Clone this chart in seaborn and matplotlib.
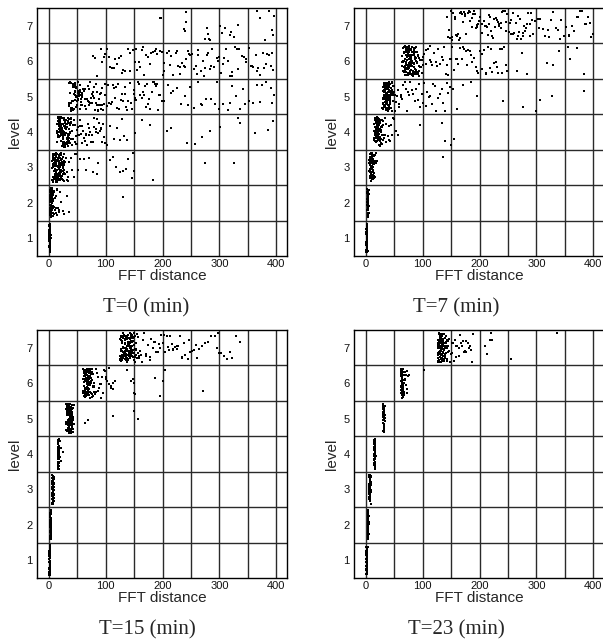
import numpy as np
import pandas as pd
import seaborn as sns
import matplotlib
matplotlib.use("Agg")
import matplotlib.pyplot as plt

levels = [1, 2, 3, 4, 5, 6, 7]
x_ticks = [0, 100, 200, 300, 400]
x_minor = [50, 150, 250, 350]
level_edges = [1.5, 2.5, 3.5, 4.5, 5.5, 6.5]
panel_titles = ["T=0 (min)", "T=7 (min)", "T=15 (min)", "T=23 (min)"]

# ---------------- T = 0 ----------------
t0_l1 = [0.5,1.2,2.0,0.8,1.6,2.4,1.0,0.3,1.9,2.7,1.4,0.7,2.2,1.1,0.9,1.7,2.5,0.4,1.3,2.1,1.5,0.6,2.8,1.8,1.0,0.2,2.3,1.2,1.6,0.9,2.0,1.4,0.5,2.6,1.1,1.7,0.8,2.2,1.3,1.9,0.6,1.5,2.4,1.0,1.8,0.4,2.1,1.2,1.6,2.9,
         0.7,1.3,2.0,1.5,0.9,2.5,1.1,1.8,0.6,2.2,1.4,0.8,1.9,1.0,2.3]
t0_l2 = [1.5,3.2,5.0,2.4,7.1,4.3,6.2,1.8,8.5,3.7,5.6,2.1,4.8,6.9,3.0,9.2,1.2,5.3,7.7,2.8,4.1,6.5,3.5,8.0,2.0,5.8,4.5,1.6,7.3,3.9,6.0,2.6,9.6,4.9,1.4,5.1,3.3,7.9,2.3,6.7,4.0,8.8,3.1,5.5,1.9,6.3,2.7,4.6,7.5,3.6,5.9,2.2,8.3,4.4,6.1,
         1.1,2.9,4.7,6.6,8.2,3.4,5.2,7.0,1.7,3.8,5.7,7.4,2.5,4.2,6.4,1.3,3.0,4.9,6.8,2.1,3.6,5.4,7.2,1.9,4.0,5.9,2.8,4.5,6.1,3.2,1.5,2.6,3.9,5.0,6.3,2.0,3.5,4.8,1.8,2.4,
         11,13,15,12,17,19,14,21,16,18,24,27,31,35,11.5,12.5,14.5,131]
t0_l3 = [7,12,18,9,23,15,26,11,20,8,14,25,17,10,22,13,27,19,6,16,
         24,12,9,21,15,28,11,18,7,23,14,20,10,26,17,13,8,25,19,12,
         22,16,9,27,14,11,21,18,7,24,15,10,20,13,26,17,8,23,12,19,
         16,9,25,14,22,11,18,6,21,15,27,10,24,13,20,17,8,26,12,19,
         6.5,9.5,12.5,15.5,18.5,21.5,7.5,10.5,13.5,16.5,19.5,22.5,8.5,11.5,14.5,17.5,20.5,23.5,9,12,
         15,18,21,24,7,10,13,16,19,22,8,11,14,17,20,6,9,12,15,18,
         10,13,16,11,14,17,12,15,9,13,18,21,24,16,11,14,7,10,19,23,
         8,12,16,20,25,9,14,18,11,15,
         30,33,29,36,41,31,38,46,34,44,52,32,39,48,55,62,70,78,85,87,66,
         108,112,118,125,130,135,140,146,150,148,184,275,325]
t0_l4 = [15,22,30,38,18,26,34,20,28,36,16,24,32,19,27,35,17,25,33,21,
         29,37,14,23,31,39,18,26,35,20,28,36,16,24,32,19,27,34,22,30,
         38,15,25,33,17,21,29,37,23,31,40,18,26,35,20,28,16,24,32,39,
         19,27,36,22,30,17,25,34,21,29,38,15,33,14.5,16.5,18.5,20.5,22.5,24.5,26.5,
         28.5,30.5,32.5,34.5,36.5,15.5,17.5,19.5,21.5,23.5,25.5,27.5,29.5,31.5,33.5,16,18,20,22,24,
         26,28,17,19,21,23,25,27,18,20,22,24,19,21,23,25,20,22,24,26,
         21,23,30,35,37,39,31,33,15,17,
         41,43,45,47,50,55,62,68,74,80,86,92,98,52,58,65,71,77,83,89,95,54,60,66,72,79,85,91,97,51,57,63,70,76,82,88,94,59,67,42,44,46,48,49,53,
         102,108,115,120,125,128,132,137,152,163,178,207,215,243,257,270,284,301,333,336,363,386,395]
t0_l5 = [36,42,48,55,61,67,73,79,85,91,97,39,45,51,58,64,70,76,82,88,94,38,44,50,57,63,69,75,81,87,93,99,37,43,49,56,62,68,74,80,86,92,98,40,46,53,59,65,71,77,83,89,95,41,47,54,60,66,72,78,84,90,96,52,35,58,64,70,46,88,
         36,38,40,42,44,46,48,50,52,54,56,58,37,39,41,43,45,47,49,51,53,55,57,35,39.5,43.5,47.5,51.5,41.5,45.5,
         102,106,111,115,120,124,129,133,138,142,147,151,156,160,165,169,174,178,183,187,192,196,104,109,113,118,122,127,131,136,140,145,149,154,158,163,167,172,176,181,185,190,194,199,117,134,152,171,188,150,
         203,210,218,225,233,240,248,255,262,270,277,285,292,300,307,315,322,330,337,345,352,360,367,375,382,390,396,214,244,268,296,318,341,371,393]
t0_l6 = [78,85,91,97,103,107,115,119,127,131,139,143,151,155,163,167,175,179,187,191,199,203,211,215,223,227,235,239,247,251,259,263,271,275,283,287,295,299,307,311,319,323,331,335,343,347,355,359,367,371,379,383,391,395,
         81,93,106,117,128,142,153,166,177,188,202,213,226,237,248,262,273,286,297,308,322,333,346,357,368,382,393,
         99,123,148,171,196,219,244,268,291,316,339,364,387,111,134,159,183,208,231,256,279,302,327,352,376,
         160,201,241,280,230,260]
t0_l7 = [195,198,237,240,242,241,275,278,280,284,301,305,310,318,325,333,366,372,380,388,392,395,396,320,282]

# ---------------- T = 7 ----------------
t7_l1 = [0.6,1.4,2.2,0.9,1.8,2.6,1.1,0.4,2.0,2.8,1.5,0.8,2.3,1.2,1.0,1.9,2.5,0.5,1.3,2.1,1.6,0.7,2.7,1.7,1.1,0.3,2.4,1.3,1.5,0.9,2.0,1.4,0.6,2.6,1.2,1.8,0.8,2.2,1.4,1.9,0.7,1.6,2.4,1.0,1.7,
         0.5,1.2,2.1,1.5,0.9,2.3,1.8,1.1,0.6,2.0,1.3,2.5,0.8,1.6,1.0,2.2,1.4,0.7,1.9,1.2]
t7_l2 = [2.6,3.4,4.2,2.9,3.8,4.6,3.1,2.5,4.0,4.8,3.5,2.8,4.3,3.2,3.0,3.9,4.5,2.7,3.3,4.1,3.6,2.6,4.7,3.7,3.1,2.5,4.4,3.3,3.5,2.9,4.0,3.4,2.6,4.6,3.2,3.8,2.8,4.2,3.4,3.9,2.7,3.6,4.4,3.0,3.7,
         2.9,3.5,4.1,3.2,3.8,4.3,2.7,3.6,4.0,3.1,3.4,4.5,2.8,3.9,3.3,4.2,3.0,3.7,3.5,4.0]
t7_l3 = [6,8,10,12,14,7,9,11,13,15,6.5,8.5,10.5,12.5,14.5,7.5,9.5,11.5,13.5,6.2,
         8.8,10.2,12.8,14.2,7.2,9.8,11.2,13.2,6.8,8.2,10.8,12.2,14.8,7.8,9.2,11.8,13.8,6.4,8.6,10.4,
         12.6,7.4,9.6,11.4,13.6,8.4,10.6,9.1,7.1,11.1,12.1,8.1,6.6,8.9,10.9,12.9,7.6,9.4,11.6,13.4,
         6.3,8.3,10.3,12.3,7.3,9.3,11.3,6.9,8.7,10.7,9.9,7.9,11.9,8.0,10.0,12.0,6.1,9.0,11.0,13.0,
         7.0,8.6,10.1,7.7,9.7,11.7,6.7,8.4,10.4,9.5,
         16.5,17,18,17.5,19,18.5,16,135]
t7_l4 = [14,17,20,23,26,29,32,15,18,21,24,27,30,16,19,22,25,28,31,14.5,
         17.5,20.5,23.5,26.5,29.5,15.5,18.5,21.5,24.5,27.5,30.5,16.5,19.5,22.5,25.5,28.5,17,20,23,26,
         15,18,21,24,19,22,25,16,20,24,28,18,22,26,17,21,19,23,27,20,
         16,24,18,22,14.2,15.8,17.3,18.9,20.4,21.9,23.1,24.7,26.2,27.8,14.8,16.3,17.8,19.2,20.8,22.3,
         23.8,25.2,15.1,16.7,18.2,19.7,21.2,22.7,24.2,15.4,17.1,18.6,20.1,21.6,23.4,16.1,17.6,19.1,20.6,22.1,
         16.9,18.4,19.9,21.4,17.4,18.8,20.2,21.8,19.4,20.9,
         38,40,42,44,47,50,53,57,41,45,34,36,33,35,95,133,140,150,155]
t7_l5 = [29,32,35,38,41,44,47,50,30,33,36,39,42,45,48,51,31,34,37,40,
         43,46,49,52,29.5,32.5,35.5,38.5,41.5,44.5,47.5,30.5,33.5,36.5,39.5,42.5,45.5,31.5,34.5,37.5,
         40.5,43.5,32,35,38,41,44,30,33,36,39,42,31,34,37,40,33,36,39,35,
         38,34,37,36,32,40,43,46,31,35,39,33,37,41,34,38,36,45,29.2,30.8,
         32.2,33.8,35.2,36.8,38.2,39.8,41.2,42.8,44.2,45.8,30.2,31.8,33.2,34.8,36.2,37.8,39.2,40.8,42.2,43.8,
         31.2,32.8,34.2,35.8,37.2,38.8,40.2,41.8,30.4,32.6,34.4,36.6,38.4,40.6,31.6,33.4,35.6,37.4,39.6,34.6,
         48.5,50.5,53,55,
         56,59,62,66,70,74,78,83,88,93,98,103,108,113,118,124,130,136,142,148,154,58,64,68,76,81,86,91,96,101,106,111,116,121,127,133,139,145,61,72,
         160,170,185,195,242,277,300,307,327,383]
t7_l6 = [63,66,69,72,75,78,81,84,87,90,93,96,99,64,67,70,73,76,79,82,85,88,91,94,97,100,65,68,71,74,77,80,83,86,89,92,95,98,101,64.5,67.5,70.5,73.5,76.5,79.5,82.5,85.5,88.5,91.5,66,69,72,75,78,81,84,87,68,71,74,77,80,83,70,73,76,79,82,72,75,78,74,77,76,80,84,73,69,86,71,79,75,81,78,70,77,74,83,88,
         65.2,67.8,70.2,72.8,75.2,77.8,80.2,82.8,85.2,87.8,90.2,92.8,66.2,68.8,71.2,73.8,76.2,78.8,81.2,83.8,
         86.2,88.8,64.2,69.2,74.2,79.2,84.2,89.2,94.2,67.2,72.2,77.2,82.2,87.2,92.2,68.2,73.2,78.2,83.2,70.8,
         75.8,80.8,85.8,71.6,76.6,81.6,66.6,74.6,79.6,84.6,69.6,77.4,72.4,82.4,75.4,78.6,73.6,76.4,80.4,74.4,
         103,106,110,113,117,120,124,127,131,134,138,141,145,148,152,155,159,162,166,169,173,176,180,183,187,190,194,197,201,204,208,211,215,218,222,225,229,232,236,239,243,246,105,115,125,135,150,160,170,185,195,205,220,230,240,112,142,178,212,248,
         265,275,283,318,330,340,355,360,371,383]
t7_l7 = [142,144,146,148,
         150,153,156,159,162,165,168,171,174,177,180,183,186,189,192,195,198,201,204,207,210,213,216,219,222,225,228,231,234,237,240,243,246,249,252,255,258,261,264,267,270,273,276,279,282,285,288,291,294,
         151,157,163,169,175,181,187,193,199,205,211,217,223,229,235,241,247,253,259,265,271,277,283,289,152,160,172,184,196,208,220,232,244,256,268,280,292,166,190,214,238,
         298,302,306,311,316,320,325,330,334,338,343,348,352,357,362,366,371,376,380,385,390,395,399,305,322,341,358,374,388,397]

# ---------------- T = 15 ----------------
t15_l1 = [0.6,1.2,1.8,2.4,0.9,1.5,2.1,0.7,1.3,1.9,2.5,1.0,1.6,2.2,0.8,1.4,2.0,0.5,1.1,1.7,2.3,0.9,1.5,2.1,0.6,1.2,1.8,2.4,1.0,1.6,2.2,0.7,1.3,1.9,1.1,1.7,0.8,1.4,2.0,1.5,1.2,1.8,0.9,1.6,1.3,
          0.7,1.4,2.0,1.1,1.7,2.3,0.9,1.5,2.1,1.2,1.8,0.6,1.3,1.9,1.0,1.6,2.2,0.8,1.4,1.7]
t15_l2 = [2.1,2.6,3.2,3.8,2.3,2.9,3.5,2.2,2.7,3.3,3.9,2.4,3.0,3.6,2.1,2.8,3.4,2.5,3.1,3.7,2.3,2.9,3.5,2.2,2.6,3.2,3.8,2.4,3.0,3.6,2.7,3.3,2.5,3.1,2.8,3.4,2.3,2.9,3.5,3.0,2.6,3.2,2.4,3.1,2.8,
          2.2,2.9,3.5,2.5,3.1,3.7,2.4,3.0,3.6,2.7,3.3,2.3,2.8,3.4,2.6,3.2,3.8,2.5,3.0,3.1]
t15_l3 = [5.2,6.0,6.8,7.6,8.4,5.5,6.3,7.1,7.9,8.7,5.8,6.6,7.4,8.2,9.0,5.3,6.1,6.9,7.7,8.5,5.6,6.4,7.2,8.0,8.8,5.9,6.7,7.5,8.3,5.4,6.2,7.0,7.8,8.6,5.7,6.5,7.3,8.1,6.0,6.8,7.6,7.0,6.4,7.2,8.0,
          5.4,6.3,7.1,8.0,8.8,5.9,6.7,7.5,8.3,5.6,6.5,7.3,8.1,6.1,6.9,7.7,8.5,6.6,7.4,7.0]
t15_l4 = [15.2,15.8,16.4,17.0,17.6,15.5,16.1,16.7,17.3,17.9,15.3,15.9,16.5,17.1,17.7,15.6,16.2,16.8,17.4,15.4,16.0,16.6,17.2,17.8,15.7,16.3,16.9,17.5,15.1,16.4,17.0,16.0,16.6,15.8,17.2,16.2,16.8,15.5,17.4,16.5,
          15.3,16.0,16.7,17.4,15.6,16.3,17.0,17.7,15.9,16.6,17.3,15.4,16.1,16.8,17.5,15.7,16.4,17.1,16.2,16.9,
          20,22,25,19,21]
t15_l5 = [30,32,34,36,38,40,42,44,31,33,35,37,39,41,43,30.5,32.5,34.5,36.5,38.5,40.5,42.5,31.5,33.5,35.5,37.5,39.5,41.5,43.5,32,34,36,38,40,42,33,35,37,39,41,34,36,38,40,35,37,39,36,38,37,31,33,35,39,41,34,36,38,40,43,
          30.2,31.2,32.2,33.2,34.2,35.2,36.2,37.2,38.2,39.2,40.2,41.2,42.2,30.8,31.8,32.8,33.8,34.8,35.8,36.8,
          37.8,38.8,39.8,40.8,41.8,30.4,32.4,34.4,36.4,38.4,40.4,42.4,31.4,33.4,35.4,37.4,39.4,41.4,32.6,34.6,
          36.6,38.6,40.6,33.6,35.6,37.6,39.6,34.8,36.8,38.2,
          63,69,113,149,157]
t15_l6 = [60,62,64,66,68,70,72,74,76,78,80,82,84,61,63,65,67,69,71,73,75,77,79,81,83,60.5,62.5,64.5,66.5,68.5,70.5,72.5,74.5,76.5,78.5,80.5,61.5,63.5,65.5,67.5,69.5,71.5,73.5,75.5,62,64,66,68,70,72,74,63,65,67,69,71,64,66,68,70,65,67,69,66,68,67,63,65,71,73,64,70,62,68,66,
          60.2,61.2,62.2,63.2,64.2,65.2,66.2,67.2,68.2,69.2,70.2,71.2,72.2,73.2,74.2,75.2,76.2,77.2,78.2,79.2,
          60.8,61.8,62.8,63.8,64.8,65.8,66.8,67.8,68.8,69.8,70.8,71.8,72.8,73.8,74.8,61.4,62.6,63.6,64.6,65.6,
          66.6,67.6,68.6,69.6,70.6,71.6,62.4,63.4,64.4,65.4,66.4,67.4,68.4,69.4,63,65,67,69,64,66,
          86,88,91,94,97,100,103,106,110,113,116,87,92,96,101,105,109,89,99,112,
          137,145,148,150,152,149,187,195,200,205,272]
t15_l7 = [125,127,129,131,133,135,137,139,141,143,145,147,149,151,153,155,157,159,126,128,130,132,134,136,138,140,142,144,146,148,150,152,154,156,158,160,125.5,127.5,129.5,131.5,133.5,135.5,137.5,139.5,141.5,143.5,145.5,147.5,149.5,151.5,153.5,126.5,128.5,130.5,132.5,134.5,136.5,138.5,140.5,142.5,144.5,146.5,148.5,150.5,127,129,131,133,135,137,139,141,143,145,147,128,130,132,134,136,138,140,142,144,129,131,133,135,137,139,141,130,134,138,142,146,150,155,
          125.2,126.8,128.2,129.8,131.2,132.8,134.2,135.8,137.2,138.8,140.2,141.8,143.2,144.8,146.2,147.8,149.2,150.8,152.2,153.8,
          125.8,127.2,128.8,130.2,131.8,133.2,134.8,136.2,137.8,139.2,140.8,142.2,143.8,145.2,146.8,148.2,126.4,129.4,132.4,135.4,
          138.4,141.4,144.4,147.4,127.6,130.6,133.6,136.6,139.6,142.6,145.6,128.4,131.4,134.4,137.4,140.4,143.4,130,136,141,
          162,165,168,171,174,177,180,183,186,189,192,195,198,201,204,207,210,213,216,219,222,225,228,231,234,237,240,244,248,252,256,260,264,163,170,178,185,194,202,212,218,226,235,246,258,
          270,275,280,286,292,297,300,303,308,313,318,322,330,337,296]

# ---------------- T = 23 ----------------
t23_l1 = [0.6,1.3,2.0,2.7,0.9,1.6,2.3,0.7,1.4,2.1,2.8,1.0,1.7,2.4,0.8,1.5,2.2,0.5,1.2,1.9,2.6,1.1,1.8,2.5,0.6,1.3,2.0,2.7,1.0,1.7,2.4,0.8,1.5,2.2,1.2,1.9,0.9,1.6,2.3,1.4,1.1,2.1,0.7,1.8,1.5,
          0.7,1.4,2.1,2.6,1.0,1.7,2.4,0.8,1.5,2.2,1.2,1.9,0.6,1.3,2.0,1.1,1.8,2.5,1.6,1.4]
t23_l2 = [3.0,3.5,4.0,4.5,3.2,3.7,4.2,4.7,3.1,3.6,4.1,4.6,3.3,3.8,4.3,4.8,3.4,3.9,4.4,3.0,3.5,4.0,4.5,3.2,3.7,4.2,3.1,3.6,4.1,4.6,3.3,3.8,4.3,3.4,3.9,4.4,3.5,4.0,3.6,4.1,3.7,4.2,3.8,3.9,4.0,
          3.1,3.6,4.1,4.6,3.3,3.8,4.3,3.0,3.5,4.0,4.5,3.2,3.7,4.2,3.4,3.9,4.4,3.6,4.1,3.8]
t23_l3 = [5.5,6.2,6.9,7.6,8.3,5.8,6.5,7.2,7.9,8.6,5.6,6.3,7.0,7.7,8.4,5.9,6.6,7.3,8.0,5.7,6.4,7.1,7.8,8.5,6.0,6.7,7.4,8.1,5.5,6.2,6.9,7.6,8.3,6.1,6.8,7.5,8.2,6.4,7.1,7.8,6.6,7.3,7.0,6.8,7.2,
          5.6,6.3,7.0,7.7,8.4,5.9,6.6,7.3,8.0,6.1,6.8,7.5,8.2,6.4,7.1,7.8,6.9,7.4,6.2,7.6]
t23_l4 = [14.2,14.8,15.4,16.0,16.6,14.5,15.1,15.7,16.3,16.9,14.3,14.9,15.5,16.1,16.7,14.6,15.2,15.8,16.4,14.4,15.0,15.6,16.2,16.8,14.7,15.3,15.9,16.5,14.2,15.4,16.0,15.0,15.6,14.8,16.2,15.2,15.8,14.5,16.4,15.5,15.1,15.7,14.9,16.1,15.3,
          14.3,14.9,15.5,16.1,16.7,14.6,15.2,15.8,16.4,14.4,15.0,15.6,16.2,16.8,14.7,15.3,15.9,16.5,15.1,15.7]
t23_l5 = [30.2,30.8,31.4,32.0,32.6,30.5,31.1,31.7,32.3,32.9,30.3,30.9,31.5,32.1,32.7,30.6,31.2,31.8,32.4,30.4,31.0,31.6,32.2,32.8,30.7,31.3,31.9,32.5,30.2,31.4,32.0,31.0,31.6,30.8,32.2,31.2,31.8,30.5,32.4,31.5,31.1,31.7,30.9,32.1,31.3,
          30.3,30.9,31.5,32.1,32.7,30.6,31.2,31.8,32.4,30.4,31.0,31.6,32.2,32.8,30.7,31.3,31.9,32.5,31.1,31.7]
t23_l6 = [61.0,61.6,62.2,62.8,63.4,64.0,64.6,65.2,65.8,66.4,67.0,61.3,61.9,62.5,63.1,63.7,64.3,64.9,65.5,66.1,66.7,61.5,62.1,62.7,63.3,63.9,64.5,65.1,65.7,66.3,61.8,62.4,63.0,63.6,64.2,64.8,65.4,66.0,62.0,62.6,63.2,63.8,64.4,65.0,65.6,63.5,64.1,62.9,64.7,63.0,
          61.2,61.8,62.4,63.0,63.6,64.2,64.8,65.4,66.0,66.6,61.4,62.0,62.6,63.2,63.8,64.4,65.0,65.6,66.2,62.3,62.9,63.5,64.1,64.7,65.3,63.1,63.7,64.3,62.7,64.9,
          68,69,70,71,72,73,74,75,69.5,71.5,102]
t23_l7 = [126,127,128,129,130,131,132,133,134,135,136,137,138,139,140,141,142,143,144,145,146,147,148,126.5,127.5,128.5,129.5,130.5,131.5,132.5,133.5,134.5,135.5,136.5,137.5,138.5,139.5,140.5,141.5,142.5,143.5,144.5,126.2,127.2,128.2,129.2,130.2,131.2,132.2,133.2,134.2,135.2,136.2,137.2,138.2,139.2,140.2,126.8,127.8,128.8,129.8,130.8,131.8,132.8,133.8,134.8,135.8,136.8,127.4,128.4,129.4,130.4,131.4,132.4,133.4,134.4,128.6,130.6,
          126.3,127.3,128.3,129.3,130.3,131.3,132.3,133.3,134.3,135.3,136.3,137.3,138.3,139.3,140.3,141.3,142.3,143.3,126.7,127.7,128.7,129.7,130.7,131.7,132.7,133.7,134.7,135.7,136.7,137.7,138.7,139.7,140.7,141.7,127.1,128.1,129.1,130.1,131.1,132.1,133.1,134.1,135.1,136.1,137.1,138.1,129.5,131.5,133.5,135.5,137.5,139.5,128.9,130.9,132.9,134.9,136.9,138.9,132.5,134.5,
          149,151,153,155,157,159,161,163,165,167,169,171,173,175,177,179,181,183,185,187,189,152,158,164,176,
          210,213,218,220,222,255,336]

panels = [
    [t0_l1, t0_l2, t0_l3, t0_l4, t0_l5, t0_l6, t0_l7],
    [t7_l1, t7_l2, t7_l3, t7_l4, t7_l5, t7_l6, t7_l7],
    [t15_l1, t15_l2, t15_l3, t15_l4, t15_l5, t15_l6, t15_l7],
    [t23_l1, t23_l2, t23_l3, t23_l4, t23_l5, t23_l6, t23_l7],
]

sns.set_theme(style="white")
plt.rcParams["font.family"] = ["Liberation Sans", "DejaVu Sans"]

W, H = 603, 641
fig = plt.figure(figsize=(W / 100, H / 100), dpi=100)
fig.patch.set_facecolor("white")

rects = [(37, 8), (354, 8), (37, 330), (354, 330)]
title_pos = [(146, 308), (456, 308), (147, 630), (456, 630)]
ax_w, ax_h = 250, 248

for i, (lx, ty) in enumerate(rects):
    ax = fig.add_axes([lx / W, 1 - (ty + ax_h) / H, ax_w / W, ax_h / H])
    frames = [pd.DataFrame({"distance": vals, "level": lvl})
              for lvl, vals in zip(levels, panels[i])]
    df = pd.concat(frames, ignore_index=True)
    sns.stripplot(data=df, x="distance", y="level", orient="h",
                  native_scale=True, jitter=0.42, size=1.5, marker="s",
                  color="black", linewidth=0, ax=ax, zorder=3)
    for coll in ax.collections:
        coll.set_antialiased(False)
    ax.set_xlim(-21, 419)
    ax.set_ylim(0.5, 7.5)
    ax.set_xticks(x_ticks)
    ax.set_xticks(x_minor, minor=True)
    ax.set_yticks(levels)
    ax.set_yticks(level_edges, minor=True)
    ax.grid(True, which="both", axis="x", color="#2a2a2a", linewidth=1.0)
    ax.grid(True, which="minor", axis="y", color="#2a2a2a", linewidth=1.0)
    ax.grid(False, which="major", axis="y")
    ax.set_axisbelow(True)
    ax.tick_params(axis="both", which="both", length=0, labelsize=8, colors="#111")
    ax.tick_params(axis="x", pad=2)
    ax.tick_params(axis="y", pad=3)
    for sp in ax.spines.values():
        sp.set_visible(True)
        sp.set_color("black")
        sp.set_linewidth(1.0)
    ax.set_xlabel("FFT distance", fontsize=11, labelpad=0)
    ax.set_ylabel("level", fontsize=11, labelpad=3)
    tx, tyy = title_pos[i]
    fig.text(tx / W, 1 - tyy / H, panel_titles[i], ha="center", va="center",
             fontsize=15, family=["Liberation Serif", "DejaVu Serif"])

fig.savefig("out.png", dpi=100, facecolor="white")
